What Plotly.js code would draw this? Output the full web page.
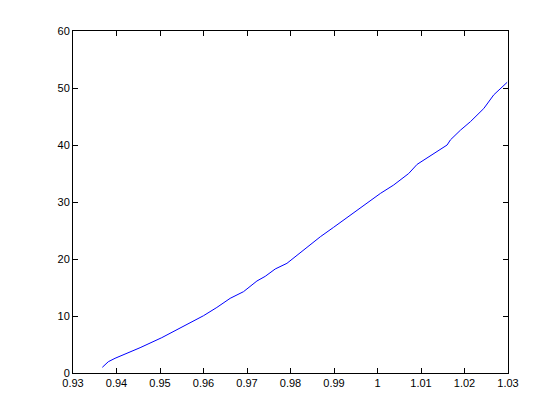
<!DOCTYPE html>
<html>
<head>
<meta charset="utf-8">
<script src="https://cdn.plot.ly/plotly-3.0.1.min.js"></script>
<style>html,body{margin:0;padding:0;background:#fff;}#chart{width:560px;height:419px;}</style>
</head>
<body>
<div id="chart"></div>
<script>
const xValues = [0.93674, 0.93812, 0.93967, 0.94273, 0.94542, 0.95041, 0.95463, 0.96000, 0.96307, 0.96613, 0.96920, 0.97228, 0.97419, 0.97649, 0.97918, 0.98263, 0.98685, 0.98991, 0.99375, 0.99759, 1.00066, 1.00372, 1.00717, 1.00910, 1.01293, 1.01600, 1.01677, 1.01907, 1.02137, 1.02443, 1.02673, 1.02981];
const yValues = [1.0, 1.98, 2.58, 3.56, 4.44, 6.2, 7.84, 10.05, 11.5, 13.1, 14.27, 16.14, 16.96, 18.25, 19.24, 21.4, 23.9, 25.56, 27.72, 29.77, 31.5, 32.98, 35.0, 36.6, 38.5, 40.0, 40.9, 42.6, 44.1, 46.4, 48.8, 51.0];
const xTicks = [0.93, 0.94, 0.95, 0.96, 0.97, 0.98, 0.99, 1.00, 1.01, 1.02, 1.03];
const xTickLabels = ["0.93", "0.94", "0.95", "0.96", "0.97", "0.98", "0.99", "1", "1.01", "1.02", "1.03"];
const yTicks = [0, 10, 20, 30, 40, 50, 60];

const axisCommon = {
  showgrid: false, zeroline: false, showline: true, linecolor: '#000', linewidth: 1,
  mirror: 'ticks', ticks: 'inside', ticklen: 5, tickwidth: 1, tickcolor: '#000',
  tickfont: {family: 'Liberation Sans, Arial, sans-serif', size: 11, color: '#000'}
};

Plotly.newPlot('chart', [{
  x: xValues, y: yValues, type: 'scatter', mode: 'lines',
  line: {color: '#0000ff', width: 1}, hoverinfo: 'skip'
}], {
  width: 560, height: 419,
  margin: {l: 73, r: 52, t: 31, b: 46},
  paper_bgcolor: '#fff', plot_bgcolor: '#fff',
  showlegend: false,
  xaxis: Object.assign({}, axisCommon, {range: [0.93, 1.03], tickmode: 'array', tickvals: xTicks, ticktext: xTickLabels}),
  yaxis: Object.assign({}, axisCommon, {range: [0, 60], tickmode: 'array', tickvals: yTicks, ticktext: yTicks.map(String)})
}, {displayModeBar: false, staticPlot: true});
</script>
</body>
</html>
